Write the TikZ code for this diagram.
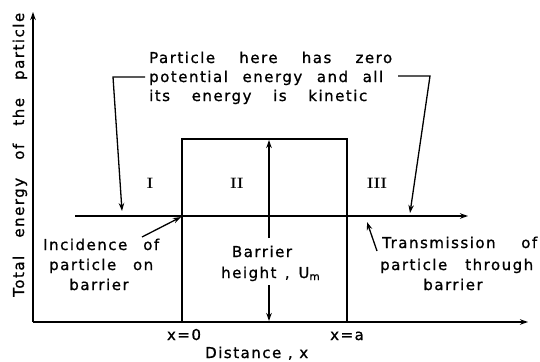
\documentclass[tikz,border=0pt]{standalone}
\usepackage{fontspec}
\usetikzlibrary{arrows.meta}
\newfontfamily\lf[LetterSpace=10,FakeBold=1]{DejaVu Sans}
\newcommand\lblfont{\lf\fontsize{15}{18}\selectfont}
\newcommand\fb[2]{\makebox[#1pt][s]{#2}}
\begin{document}
\begin{tikzpicture}[x=1pt,y=-1pt,
  lbl/.style={font=\lblfont, inner sep=0pt},
  rom/.style={font=\fontsize{15}{15}\selectfont\bfseries, inner sep=0pt},
  ln/.style={line width=1.7pt},
  thin/.style={line width=1.3pt},
  arr/.style={-{Stealth[length=8pt,width=5.5pt]}}]
\useasboundingbox (0,0) rectangle (540,361);
% axes
\coordinate (O) at (33,322);
\coordinate (Ytop) at (33,12);
\coordinate (Xend) at (528,322);
\draw[ln,arr] (O) -- (Ytop);
\draw[ln,arr] (O) -- (Xend);
% barrier
\coordinate (B1) at (182,322);
\coordinate (B2) at (182,139);
\coordinate (B3) at (347,139);
\coordinate (B4) at (347,322);
\draw[ln] (B1) -- (B2) -- (B3) -- (B4);
% energy line
\coordinate (E0) at (75,216);
\coordinate (E1) at (468,216);
\draw[ln,arr] (E0) -- (E1);
% barrier height arrows
\coordinate (H1) at (269,238);
\coordinate (H2) at (269,140);
\coordinate (H3) at (269,285);
\coordinate (H4) at (269,321);
\draw[thin,arr] (H1) -- (H2);
\draw[thin,arr] (H3) -- (H4);
% roman numerals
\node[rom] (r1) at (150,183) {I};
\node[rom] (r2) at (237,183) {II};
\node[rom] (r3) at (377,183) {III};
% top text
\node[lbl,anchor=base west] (t1) at (149,63) {\fb{243}{Particle here has zero}};
\node[lbl,anchor=base west] (t2) at (149,82) {\fb{234}{potential energy and all}};
\node[lbl,anchor=base west] (t3) at (149,101) {\fb{218}{its energy is kinetic}};
\coordinate (L0) at (145,77);
\coordinate (L1) at (113,77);
\coordinate (L2) at (122,211);
\draw[thin,arr] (L0) -- (L1) -- (L2);
\coordinate (R0) at (398,76);
\coordinate (R1) at (430,76);
\coordinate (R2) at (410,213);
\draw[thin,arr] (R0) -- (R1) -- (R2);
% incidence
\node[lbl,anchor=base west] (i1) at (43,250) {\fb{116}{Incidence of}};
\node[lbl,anchor=base west] (i2) at (49,270) {\fb{104}{particle on}};
\node[lbl,anchor=base] (i3) at (99,290) {barrier};
\coordinate (I0) at (142,237);
\coordinate (I1) at (181,217);
\draw[thin,arr] (I0) -- (I1);
% barrier height
\node[lbl,anchor=base] (h1) at (262,257) {Barrier};
\node[lbl,anchor=base west] (h2) at (221,278) {\fb{99}{height , U\textsubscript{m}}};
% transmission
\node[lbl,anchor=base west] (tr1) at (382,248) {\fb{155}{Transmission of}};
\node[lbl,anchor=base west] (tr2) at (380,270) {\fb{153}{particle through}};
\node[lbl,anchor=base] (tr3) at (453,290) {barrier};
\coordinate (T0) at (377,251);
\coordinate (T1) at (367,222);
\draw[thin,arr] (T0) -- (T1);
% axis labels
\node[lbl,anchor=base] (x0) at (184,340) {x=0};
\node[lbl,anchor=base] (xa) at (347,340) {x=a};
\node[lbl,anchor=base west] (dx) at (205,358) {\fb{103}{Distance , x}};
\node[lbl,rotate=90,anchor=base west] (yl) at (24,297) {\fb{284}{Total energy of the particle}};
\end{tikzpicture}
\end{document}
